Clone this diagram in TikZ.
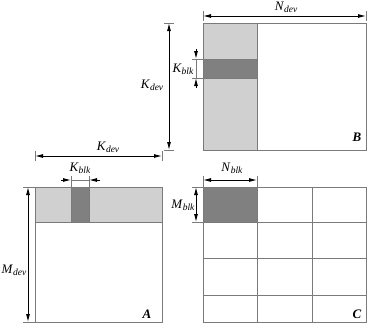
\documentclass[tikz,border=0pt]{standalone}
\usepackage{fontspec}
\setmainfont{Liberation Serif}
\usetikzlibrary{arrows.meta}
\definecolor{lightg}{HTML}{D0D0D0}
\definecolor{darkg}{HTML}{808080}
\definecolor{edgeg}{HTML}{7A7A7A}
\newcommand{\symb}[2]{\textit{#1}\raisebox{-0.35ex}{\fontsize{9.5}{9.5}\selectfont\textit{#2}}}
\begin{document}
\begin{tikzpicture}[x=1pt,y=-1pt,
  dimline/.style={draw=black, line width=0.9pt, {Latex[length=8pt,width=4pt]}-{Latex[length=8pt,width=4pt]}},
  halfarrow/.style={draw=black, line width=0.9pt, -{Latex[length=8pt,width=4pt]}},
  extline/.style={draw=edgeg, line width=0.45pt},
  boxline/.style={draw=edgeg, line width=0.9pt},
  lab/.style={font=\fontsize{13}{13}\selectfont, inner sep=0pt},
  mlab/.style={font=\fontsize{13}{13}\selectfont\bfseries\itshape, inner sep=0pt}]
\useasboundingbox (0,0) rectangle (367,332);

% ---------- Matrix B ----------
\fill[lightg] (203,23) rectangle (257,150);
\fill[darkg] (203,59) rectangle (257,78);
\draw[boxline] (203,59) -- (257,59) (203,78) -- (257,78);
\draw[boxline] (257,23) -- (257,150);
\node[boxline, rectangle, minimum width=163pt, minimum height=127pt, anchor=north west, inner sep=0pt] (B) at (203,23) {};
\node[mlab] (Blab) at (357,137) {B};

% N_dev
\coordinate (nd1) at (203,16); \coordinate (nd2) at (366,16);
\draw[extline] (203,11) -- (203,21) (366,11) -- (366,21);
\draw[dimline] (nd1) -- (nd2);
\node[lab] (Ndev) at (286,7) {\symb{N}{dev}};

% K_dev vertical
\coordinate (kv1) at (169,23); \coordinate (kv2) at (169,150);
\draw[extline] (164,23) -- (174,23) (164,150) -- (174,150);
\draw[dimline] (kv1) -- (kv2);
\node[lab] (Kdevv) at (152,85) {\symb{K}{dev}};

% K_blk in B
\coordinate (kb1) at (196,49); \coordinate (kb2) at (196,59);
\coordinate (kb3) at (196,88); \coordinate (kb4) at (196,78);
\draw[extline] (192,59) -- (203,59) (192,78) -- (203,78) (kb2) -- (kb4);
\draw[halfarrow] (kb1) -- (kb2);
\draw[halfarrow] (kb3) -- (kb4);
\node[lab] (KblkB) at (183,69) {\symb{K}{blk}};

% ---------- Matrix A ----------
\fill[lightg] (35,187) rectangle (162,222);
\fill[darkg] (71,187) rectangle (89,222);
\draw[boxline] (71,187) -- (71,222) (89,187) -- (89,222);
\draw[boxline] (35,222) -- (162,222);
\node[boxline, rectangle, minimum width=127pt, minimum height=135pt, anchor=north west, inner sep=0pt] (A) at (35,187) {};
\node[mlab] (Alab) at (147,314) {A};

% K_dev horizontal
\coordinate (kh1) at (35,156); \coordinate (kh2) at (162,156);
\draw[extline] (35,151) -- (35,161) (162,151) -- (162,161);
\draw[dimline] (kh1) -- (kh2);
\node[lab] (Kdevh) at (108,147) {\symb{K}{dev}};

% K_blk above A
\coordinate (ka1) at (61,180); \coordinate (ka2) at (71,180);
\coordinate (ka3) at (100,180); \coordinate (ka4) at (89,180);
\draw[extline] (71,176) -- (71,187) (89,176) -- (89,187) (ka2) -- (ka4);
\draw[halfarrow] (ka1) -- (ka2);
\draw[halfarrow] (ka3) -- (ka4);
\node[lab] (KblkA) at (80,168) {\symb{K}{blk}};

% M_dev
\coordinate (md1) at (28,187); \coordinate (md2) at (28,322);
\draw[extline] (23,187) -- (35,187) (23,322) -- (35,322);
\draw[dimline] (md1) -- (md2);
\node[lab] (Mdev) at (14,270) {\symb{M}{dev}};

% ---------- Matrix C ----------
\fill[darkg] (203,187) rectangle (257,222);
\draw[boxline] (257,187) -- (257,322) (312,187) -- (312,322);
\draw[boxline] (203,222) -- (366,222) (203,258) -- (366,258) (203,295) -- (366,295);
\node[boxline, rectangle, minimum width=163pt, minimum height=135pt, anchor=north west, inner sep=0pt] (C) at (203,187) {};
\node[mlab] (Clab) at (357,314) {C};

% N_blk
\coordinate (nb1) at (203,180); \coordinate (nb2) at (257,180);
\draw[extline] (203,176) -- (203,187) (257,176) -- (257,187);
\draw[dimline] (nb1) -- (nb2);
\node[lab] (Nblk) at (232,168) {\symb{N}{blk}};

% M_blk
\coordinate (mb1) at (196,187); \coordinate (mb2) at (196,222);
\draw[extline] (192,187) -- (203,187) (192,222) -- (203,222);
\draw[dimline] (mb1) -- (mb2);
\node[lab] (Mblk) at (183,205) {\symb{M}{blk}};
\end{tikzpicture}
\end{document}
